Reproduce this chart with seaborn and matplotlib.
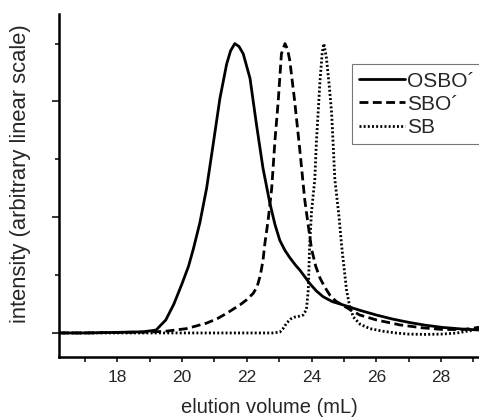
import numpy as np
import pandas as pd
import matplotlib
matplotlib.use("Agg")
import matplotlib.pyplot as plt
from matplotlib.ticker import MultipleLocator
import seaborn as sns

# values (elution volume in mL, normalised intensity)
osbo_x = [16.2, 17.0, 18.0, 18.8, 19.2, 19.5, 19.75, 20.0, 20.2, 20.35, 20.55,
          20.76, 20.96, 21.17, 21.38, 21.5, 21.63, 21.76, 21.89, 22.1, 22.3,
          22.5, 22.71, 22.87, 23.02, 23.18, 23.33, 23.5, 23.64, 23.8, 23.95,
          24.15, 24.36, 24.65, 24.97, 25.5, 26.0, 26.5, 27.03, 27.5, 28.05,
          28.6, 29.2]
osbo_y = [0.0, 0.0, 0.002, 0.004, 0.01, 0.045, 0.1, 0.17, 0.23, 0.29, 0.38,
          0.5, 0.65, 0.81, 0.93, 0.975, 1.0, 0.99, 0.965, 0.88, 0.72,
          0.57, 0.45, 0.375, 0.32, 0.285, 0.26, 0.235, 0.217, 0.193, 0.17,
          0.145, 0.125, 0.108, 0.097, 0.078, 0.062, 0.048, 0.036, 0.027, 0.019,
          0.014, 0.01]

sbo_x = [16.2, 17.0, 18.0, 19.0, 19.5, 20.14, 20.76, 21.1, 21.38, 21.79,
         22.0, 22.2, 22.32, 22.42, 22.5, 22.56, 22.66, 22.77, 22.87, 22.97,
         23.07, 23.18, 23.26, 23.33, 23.48, 23.64, 23.79, 23.9, 24.0, 24.13,
         24.26, 24.4, 24.57, 24.75, 24.97, 25.2, 25.49, 26.0, 26.72, 27.4,
         28.05, 28.7, 29.2]
sbo_y = [0.0, 0.0, 0.002, 0.003, 0.006, 0.015, 0.034, 0.05, 0.068, 0.097,
         0.115, 0.137, 0.16, 0.2, 0.25, 0.31, 0.39, 0.5, 0.665, 0.8,
         0.965, 1.0, 0.98, 0.94, 0.8, 0.63, 0.46, 0.37, 0.29, 0.23,
         0.19, 0.16, 0.13, 0.11, 0.095, 0.08, 0.062, 0.045, 0.028, 0.018,
         0.012, 0.012, 0.02]

sb_x = [16.2, 17.0, 18.0, 19.0, 20.0, 21.0, 22.0, 22.8, 23.02, 23.12, 23.23,
        23.35, 23.48, 23.62, 23.74, 23.84, 23.9, 23.94, 24.0, 24.1, 24.15,
        24.26, 24.33, 24.38, 24.46, 24.55, 24.62, 24.72, 24.85, 24.93, 25.08,
        25.18, 25.29, 25.5, 25.8, 26.2, 26.6, 27.0, 27.5, 28.0, 28.5, 29.0,
        29.2]
sb_y = [0.0, 0.0, 0.0, 0.0, 0.0, 0.0, 0.0, 0.0, 0.003, 0.015, 0.034,
        0.048, 0.055, 0.058, 0.062, 0.08, 0.15, 0.3, 0.42, 0.53, 0.66,
        0.87, 0.97, 1.0, 0.95, 0.85, 0.76, 0.53, 0.4, 0.3, 0.148,
        0.09, 0.055, 0.03, 0.015, 0.006, 0.0, -0.004, -0.005, -0.004, 0.0, 0.01,
        0.02]

labels = ["OSBO\u00b4", "SBO\u00b4", "SB"]

df = pd.concat([
    pd.DataFrame({"volume": osbo_x, "intensity": osbo_y, "sample": labels[0]}),
    pd.DataFrame({"volume": sbo_x, "intensity": sbo_y, "sample": labels[1]}),
    pd.DataFrame({"volume": sb_x, "intensity": sb_y, "sample": labels[2]}),
], ignore_index=True)

sns.set_style("ticks")
plt.rcParams['font.family'] = ['Liberation Sans', 'DejaVu Sans']

fig = plt.figure(figsize=(4.79, 4.18), dpi=100)
ax = fig.add_axes([0.123, 0.146, 0.877, 0.821])

sns.lineplot(data=df, x="volume", y="intensity", hue="sample", style="sample",
             palette=["black", "black", "black"],
             dashes={labels[0]: "", labels[1]: (3.2, 1.6), labels[2]: (0.7, 0.8)},
             linewidth=2.0, sort=False, ax=ax)

ax.set_xlim(16.2, 29.17)
ax.set_ylim(-0.083, 1.103)
ax.xaxis.set_major_locator(MultipleLocator(2))
ax.xaxis.set_minor_locator(MultipleLocator(1))
ax.yaxis.set_major_locator(MultipleLocator(0.4))
ax.yaxis.set_minor_locator(MultipleLocator(0.2))
ax.set_yticklabels([])
ax.tick_params(axis="x", which="major", length=3.5, width=1.3, labelsize=12.5, pad=6)
ax.tick_params(axis="x", which="minor", length=3.5, width=1.3)
ax.tick_params(axis="y", which="major", length=5, width=1.3)
ax.tick_params(axis="y", which="minor", length=3, width=1.3)

sns.despine(ax=ax)
for side in ["left", "bottom"]:
    ax.spines[side].set_linewidth(1.8)
    ax.spines[side].set_color("black")

ax.set_xlabel("elution volume (mL)", fontsize=14.5, labelpad=9)
ax.set_ylabel("intensity (arbitrary linear scale)", fontsize=15.8)
ax.yaxis.set_label_coords(-0.067, 0.535)

leg = ax.legend(loc="upper left", bbox_to_anchor=(0.698, 0.853), fontsize=15,
                frameon=True, fancybox=False, handlelength=2.2,
                handletextpad=0.1, labelspacing=0.2, borderpad=0.35,
                borderaxespad=0)
leg.get_frame().set_edgecolor("#555555")
leg.get_frame().set_linewidth(0.8)
for h in leg.get_lines():
    h.set_linewidth(2.0)

fig.savefig("out.png", dpi=100)
